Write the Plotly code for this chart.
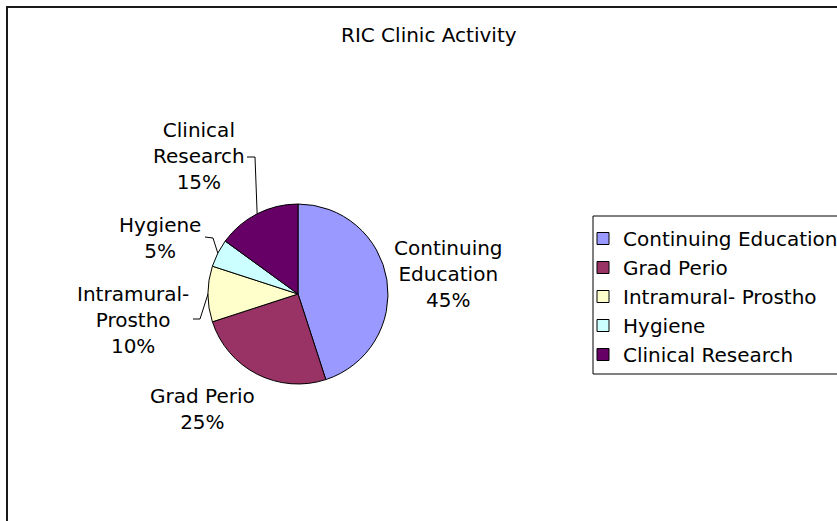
import math
import plotly.graph_objects as go

# ---- data ----
categories = ["Continuing Education", "Grad Perio", "Intramural- Prostho", "Hygiene", "Clinical Research"]
values = [45, 25, 10, 5, 15]
label_text = ["Continuing<br>Education<br>45%", "Grad Perio<br>25%", "Intramural-<br>Prostho<br>10%",
              "Hygiene<br>5%", "Clinical<br>Research<br>15%"]
colors = ["#9999FF", "#993366", "#FFFFCC", "#CCFFFF", "#660066"]
title_text = "RIC Clinic Activity"

# ---- layout constants (pixels) ----
W, H = 837, 521
CX, CY, R = 298, 294, 90
FONT = "DejaVu Sans, Verdana, sans-serif"
FS = 20

def px(x):
    return x / W

def py(y):
    return 1 - y / H

# label block centres (pixels) and leader-line elbows
label_pos = [(448, 274), (202, 409), (133, 320), (160, 238), (199, 156)]
leader_start = {2: [(193, 319), (200, 319)], 3: [(205, 237), (213, 238)], 4: [(247, 157), (255, 157)]}

fig = go.Figure(go.Pie(
    labels=categories, values=values, sort=False, direction="clockwise", rotation=0,
    marker=dict(colors=colors, line=dict(color="black", width=1)),
    textinfo="none", hoverinfo="label+percent",
    domain=dict(x=[px(CX - R), px(CX + R)], y=[py(CY + R), py(CY - R)]),
))

annotations = [dict(text=title_text, x=px(429), y=py(35), xref="paper", yref="paper",
                    showarrow=False, xanchor="center", yanchor="middle",
                    font=dict(family=FONT, size=FS, color="black"))]
for (lx, ly), t in zip(label_pos, label_text):
    annotations.append(dict(text=t, x=px(lx), y=py(ly), xref="paper", yref="paper",
                            showarrow=False, xanchor="center", yanchor="middle", align="center",
                            font=dict(family=FONT, size=FS, color="black")))

shapes = [
    # chart frame
    dict(type="rect", xref="paper", yref="paper", x0=px(7), y0=py(7), x1=px(W + 20), y1=py(H + 20),
         line=dict(color="#1a1a1a", width=2)),
    # legend box
    dict(type="rect", xref="paper", yref="paper", x0=px(593), y0=py(216), x1=px(W + 20), y1=py(374),
         line=dict(color="black", width=1), fillcolor="rgba(0,0,0,0)", layer="below"),
]

total = sum(values)
cum = 0
for i, v in enumerate(values):
    mid = (cum + v / 2) / total * 2 * math.pi
    cum += v
    if i in leader_start:
        ex = CX + R * math.sin(mid)
        ey = CY - R * math.cos(mid)
        pts = leader_start[i] + [(ex, ey)]
        path = "M " + " L ".join(f"{px(a)},{py(b)}" for a, b in pts)
        shapes.append(dict(type="path", xref="paper", yref="paper", path=path,
                           line=dict(color="black", width=1)))

fig.update_layout(
    width=W, height=H, margin=dict(l=0, r=0, t=0, b=0, autoexpand=False),
    paper_bgcolor="white", plot_bgcolor="white",
    showlegend=True,
    legend=dict(x=px(583), y=py(219), xanchor="left", yanchor="top",
                borderwidth=0, bgcolor="rgba(0,0,0,0)",
                font=dict(family=FONT, size=FS, color="black")),
    annotations=annotations, shapes=shapes,
)

fig.write_html("out.html", config={"displayModeBar": False},
               post_script="document.body.style.margin='0';")
